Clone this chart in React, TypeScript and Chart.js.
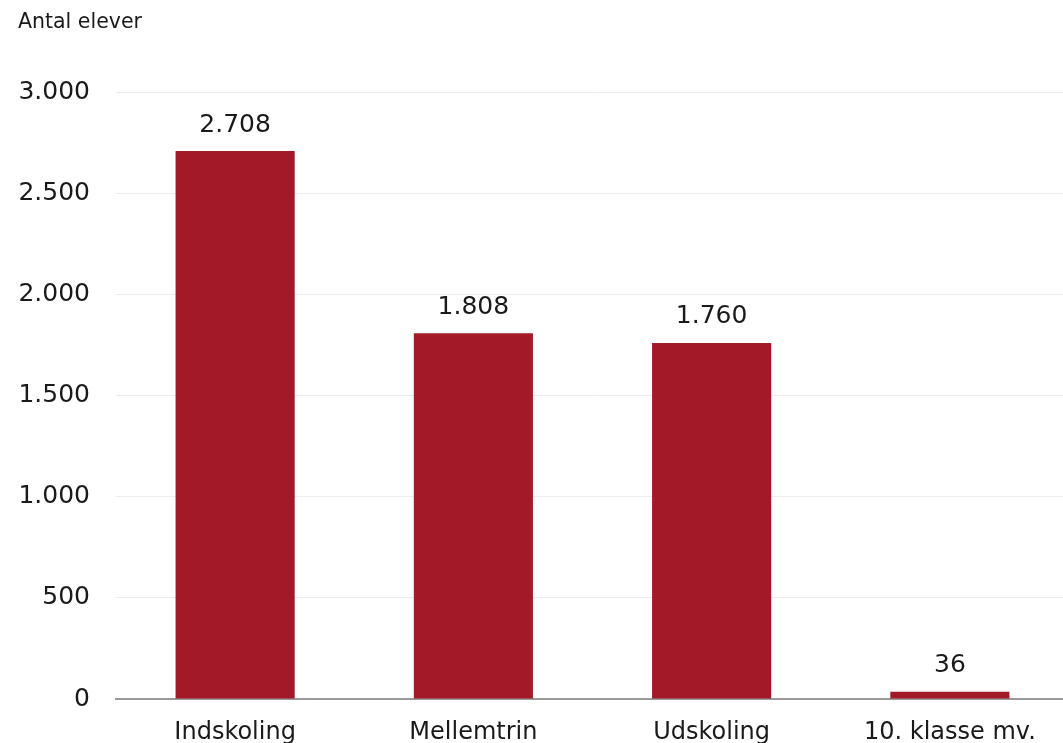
import React, { useEffect, useRef } from "react";
import { Chart, registerables } from "chart.js";
Chart.register(...registerables);

const categories = ["Indskoling", "Mellemtrin", "Udskoling", "10. klasse mv."];
const values = [2708, 1808, 1760, 36];
const yTicks = [0, 500, 1000, 1500, 2000, 2500, 3000];
const axisTitle = "Antal elever";

const FONT = "'DejaVu Sans', sans-serif";
const fmt = (v: number) => v.toLocaleString("da-DK");

export default function App() {
  const ref = useRef<HTMLCanvasElement>(null);
  useEffect(() => {
    document.body.style.margin = "0";
    const labelPlugin = {
      id: "labels",
      afterDatasetsDraw(chart: any) {
        const ctx = chart.ctx;
        const meta = chart.getDatasetMeta(0);
        ctx.save();
        ctx.fillStyle = "#1a1a1a";
        ctx.font = `25px ${FONT}`;
        ctx.textAlign = "center";
        ctx.textBaseline = "middle";
        meta.data.forEach((bar: any, i: number) => {
          ctx.fillText(fmt(values[i]), bar.x, bar.y - 26);
        });
        ctx.font = `20.5px ${FONT}`;
        ctx.textAlign = "left";
        ctx.fillText(axisTitle, 18, 23);
        ctx.restore();
      },
    };
    const chart = new Chart(ref.current!, {
      type: "bar",
      data: {
        labels: categories,
        datasets: [
          {
            data: values,
            backgroundColor: "#A21927",
            barPercentage: 1,
            categoryPercentage: 0.5,
          },
        ],
      },
      options: {
        responsive: false,
        animation: false,
        layout: { padding: { top: 92, right: 0, left: 0, bottom: 0 } },
        plugins: { legend: { display: false }, tooltip: { enabled: false } },
        scales: {
          x: {
            grid: { display: false },
            border: { display: true, color: "#9a9a9a", width: 2 },
            ticks: { color: "#1a1a1a", font: { family: FONT, size: 24 }, padding: 11, maxRotation: 0 },
            afterFit: (s: any) => { s.height = 44; },
          },
          y: {
            min: 0,
            max: 3000,
            afterBuildTicks: (s: any) => { s.ticks = yTicks.map((v) => ({ value: v })); },
            grid: { color: "#ececec", lineWidth: 1, drawTicks: false },
            border: { display: false },
            ticks: {
              color: "#1a1a1a",
              font: { family: FONT, size: 25 },
              padding: 26,
              callback: (v: any) => fmt(Number(v)),
            },
            afterFit: (s: any) => { s.width = 116; },
          },
        },
      },
      plugins: [labelPlugin],
    });
    return () => chart.destroy();
  }, []);
  return (
    <div style={{ width: 1063, height: 743, overflow: "hidden" }}>
      <canvas ref={ref} width={1069} height={743} style={{ display: "block" }} />
    </div>
  );
}
